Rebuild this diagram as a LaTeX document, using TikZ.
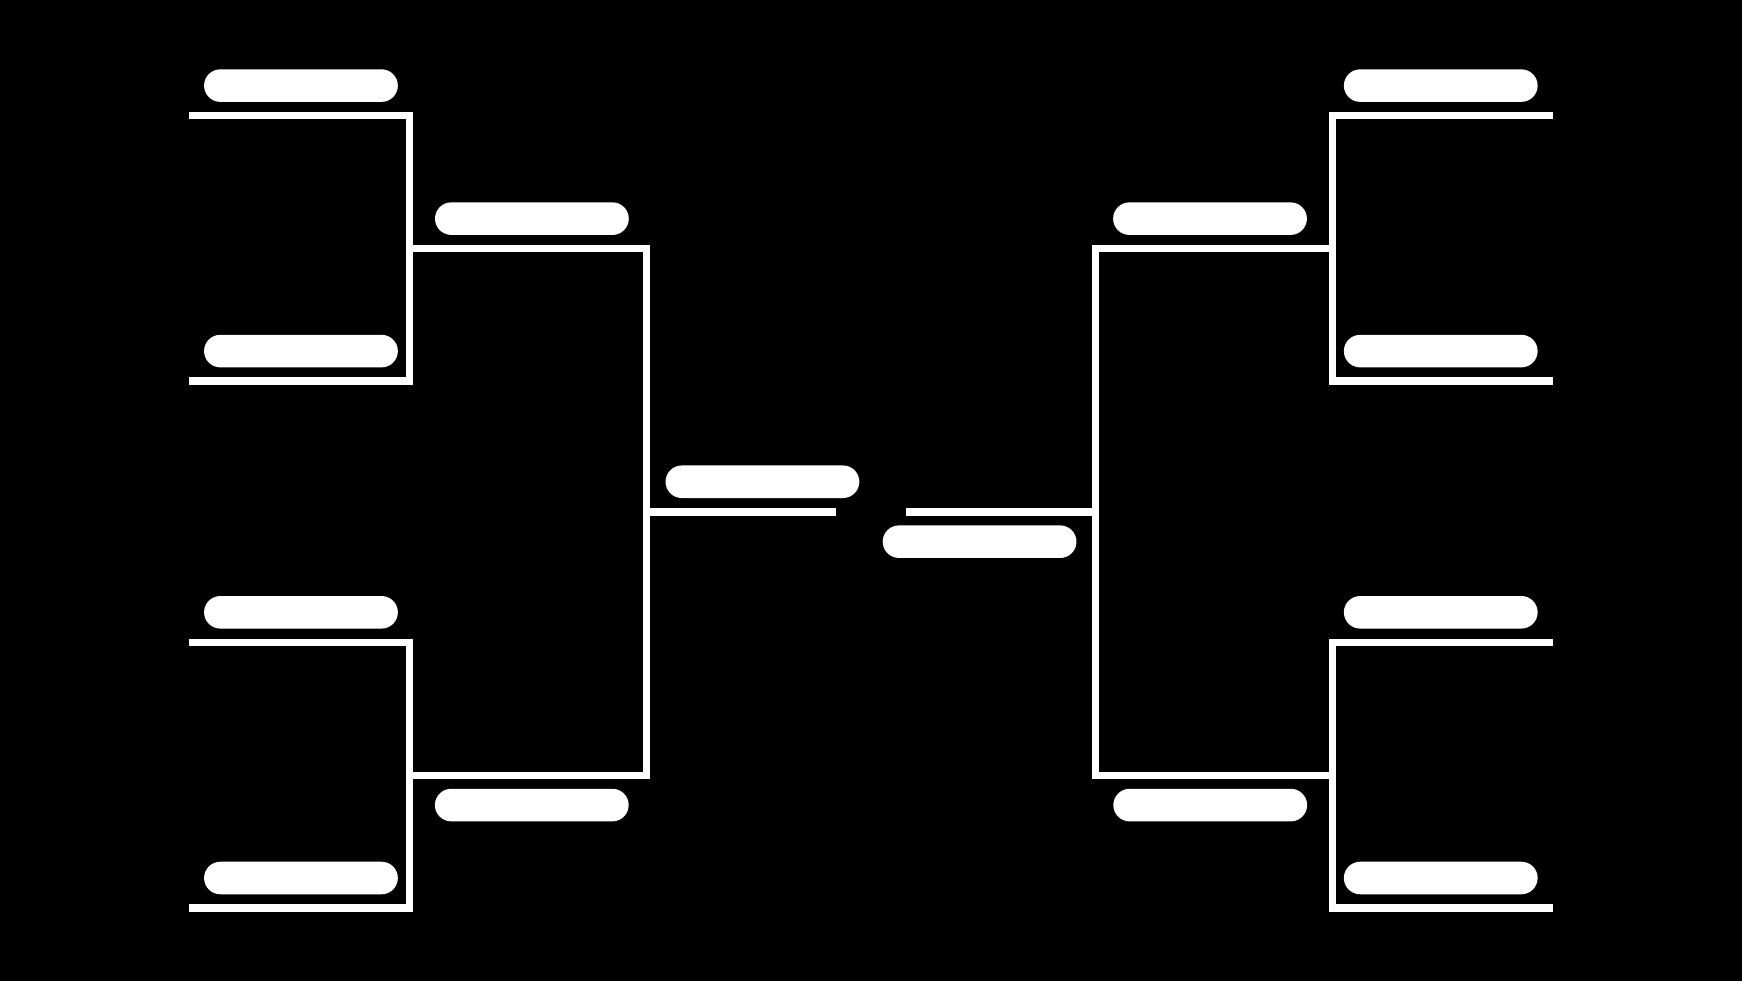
\documentclass[tikz,border=0pt]{standalone}
\usetikzlibrary{shapes.misc}
\begin{document}
\begin{tikzpicture}[x=1pt,y=-1pt,
  pill/.style={rounded rectangle,rounded rectangle arc length=180,draw=none,fill=white,minimum width=194pt,minimum height=32.6pt,inner sep=0pt,outer sep=0pt},
  wire/.style={draw=white,line width=7.3pt,line join=miter,line cap=butt}]
\fill[black] (-1,-1) rectangle (1743,981);
\useasboundingbox (0,0) rectangle (1742,980);
% pills
\node[pill] (la1) at (300.3,84.7) {};
\node[pill] (la2) at (300.3,350.5) {};
\node[pill] (la3) at (300.3,612) {};
\node[pill] (la4) at (300.3,878) {};
\node[pill] (lb1) at (531.5,217.9) {};
\node[pill] (lb2) at (531.4,805) {};
\node[pill] (lc) at (762.3,481.3) {};
\node[pill] (rc) at (979.7,541.3) {};
\node[pill] (rb1) at (1210.4,217.9) {};
\node[pill] (rb2) at (1210.6,805) {};
\node[pill] (ra1) at (1441.4,84.7) {};
\node[pill] (ra2) at (1441.4,350.5) {};
\node[pill] (ra3) at (1441.4,612) {};
\node[pill] (ra4) at (1441.4,878) {};
% line coordinates
\coordinate (L1s) at (188,114.7); \coordinate (L1c) at (409,114.7);
\coordinate (L2s) at (188,380.3); \coordinate (L2c) at (409,380.3);
\coordinate (L3s) at (188,642);   \coordinate (L3c) at (409,642);
\coordinate (L4s) at (188,908);   \coordinate (L4c) at (409,908);
\coordinate (M1s) at (409,248);   \coordinate (M1c) at (646,248);
\coordinate (M2s) at (409,775.3); \coordinate (M2c) at (646,775.3);
\coordinate (Cl) at (646,511.5);  \coordinate (Ce) at (836,511.5);
\coordinate (Cr) at (906,511.5);  \coordinate (Cre) at (1095.8,511.5);
\coordinate (N1s) at (1333,248);   \coordinate (N1c) at (1095.8,248);
\coordinate (N2s) at (1333,775.3); \coordinate (N2c) at (1095.8,775.3);
\coordinate (R1s) at (1554,114.7); \coordinate (R1c) at (1333,114.7);
\coordinate (R2s) at (1554,380.3); \coordinate (R2c) at (1333,380.3);
\coordinate (R3s) at (1554,642);   \coordinate (R3c) at (1333,642);
\coordinate (R4s) at (1554,908);   \coordinate (R4c) at (1333,908);
% brackets
\draw[wire] (L1s) -- (L1c) -- (L2c) -- (L2s);
\draw[wire] (L3s) -- (L3c) -- (L4c) -- (L4s);
\draw[wire] (M1s) -- (M1c) -- (M2c) -- (M2s);
\draw[wire] (Cl) -- (Ce);
\draw[wire] (Cr) -- (Cre);
\draw[wire] (N1s) -- (N1c) -- (N2c) -- (N2s);
\draw[wire] (R1s) -- (R1c) -- (R2c) -- (R2s);
\draw[wire] (R3s) -- (R3c) -- (R4c) -- (R4s);
\end{tikzpicture}
\end{document}
